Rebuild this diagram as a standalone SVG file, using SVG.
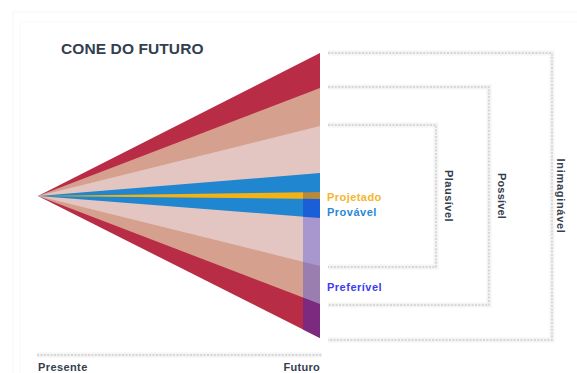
<svg xmlns="http://www.w3.org/2000/svg" width="577" height="373" viewBox="0 0 577 373">
  <style>
    .lbl { font-family: "Liberation Sans", Arial, sans-serif; font-weight: bold; }
    .dark { fill: #333e4e; }
    .dot { fill: none; stroke: #cdcdcd; stroke-width: 1.4; stroke-dasharray: 2 1.4; }
    .glow { fill: none; stroke: #f4f4f4; stroke-width: 5; }
  </style>
  <defs>
    <clipPath id="strip"><rect x="303" y="192" width="17" height="150"/></clipPath>
  </defs>
  <rect width="577" height="373" fill="#ffffff"/>
  <path d="M13,373 V12 H577" fill="none" stroke="#f5f5f5" stroke-width="1"/>
  <path d="M20,373 V22 H577" fill="none" stroke="#f8f8f8" stroke-width="1"/>

  <g id="title">
    <text class="lbl dark" x="61" y="54" font-size="15.5" letter-spacing="0.1">CONE DO FUTURO</text>
  </g>

  <g id="cone">
    <polygon points="38,196 320,53 320,338" fill="#b82c46"/>
    <polygon points="38,196 320,88 320,304" fill="#d5a08d"/>
    <polygon points="38,196 320,126 320,266" fill="#e3c5c1"/>
    <polygon points="38,196 320,173 320,218" fill="#1f86cf"/>
    <polygon points="38,196 320,192 320,199" fill="#f5b214"/>
    <g clip-path="url(#strip)">
      <polygon points="38,196 320,53 320,338" fill="#7c2a80"/>
      <polygon points="38,196 320,88 320,304" fill="#9a7eaf"/>
      <polygon points="38,196 320,126 320,266" fill="#a896cf"/>
      <polygon points="38,196 320,173 320,218" fill="#1b5fd6"/>
      <polygon points="38,196 320,192 320,199" fill="#b68a3c"/>
    </g>
  </g>

  <g id="frames">
    <path class="glow" d="M328,53 H552 V340 H328"/>
    <path class="dot" d="M328,53 H552 V340 H328"/>
    <path class="glow" d="M328,87 H489 V305 H328"/>
    <path class="dot" d="M328,87 H489 V305 H328"/>
    <path class="glow" d="M328,125 H436 V267 H328"/>
    <path class="dot" d="M328,125 H436 V267 H328"/>
    <path class="glow" d="M37,355 H322"/>
    <path class="dot" d="M37,355 H322"/>
  </g>

  <g id="labels">
    <text class="lbl" x="327" y="201" font-size="11" letter-spacing="0.45" fill="#f4b52c">Projetado</text>
    <text class="lbl" x="327" y="216" font-size="11" letter-spacing="0.5" fill="#2a88d6">Provável</text>
    <text class="lbl" x="327" y="291" font-size="11" letter-spacing="0.5" fill="#3c3cf0">Preferível</text>
    <text class="lbl dark" font-size="11" letter-spacing="0.5" text-anchor="middle" transform="translate(445,196) rotate(90)">Plausível</text>
    <text class="lbl dark" font-size="11" letter-spacing="0.2" text-anchor="middle" transform="translate(498,196) rotate(90)">Possível</text>
    <text class="lbl dark" font-size="11" letter-spacing="0.7" text-anchor="middle" transform="translate(557,196) rotate(90)">Inimaginável</text>
    <text class="lbl dark" x="38" y="371" font-size="11" letter-spacing="0.4">Presente</text>
    <text class="lbl dark" x="320" y="371" font-size="11" letter-spacing="0.3" text-anchor="end">Futuro</text>
  </g>
</svg>
